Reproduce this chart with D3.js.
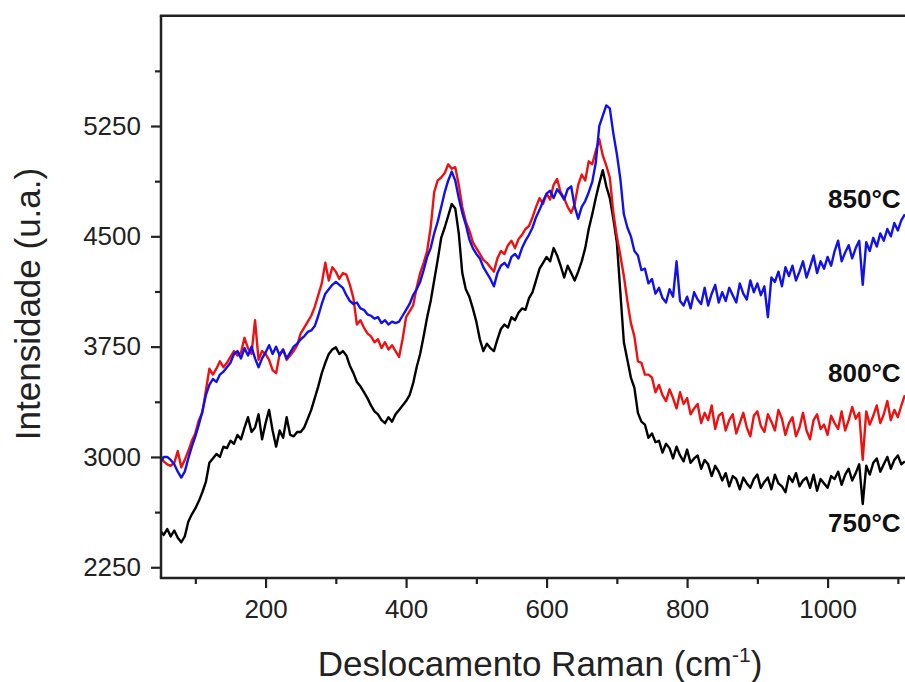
<!DOCTYPE html>
<html>
<head>
<meta charset="utf-8">
<script src="https://cdn.jsdelivr.net/npm/d3@7/dist/d3.min.js"></script>
<style>
  html, body { margin: 0; padding: 0; background: #fff; }
  svg { display: block; font-family: "Liberation Sans", Arial, sans-serif; }
</style>
</head>
<body>
<svg id="chart" width="905" height="682"></svg>
<script>
// ---- data ----
// Raman shift grid: 50 .. 1110 cm-1, step 5
const shiftStart = 50;
const shiftStep = 5;

// 750 °C (black)
const s750 = [
  2500,2470,2510,2460,2500,2450,2420,2460,2560,2610, // 50
  2650,2700,2760,2830,2960,2990,3020,3000,3070,3060, // 100
  3110,3090,3150,3120,3200,3270,3170,3200,3290,3120, // 150
  3230,3320,3180,3070,3180,3130,3270,3150,3140,3170, // 200
  3170,3200,3260,3320,3400,3480,3570,3640,3700,3730, // 250
  3745,3700,3720,3690,3620,3570,3510,3480,3440,3400, // 300
  3350,3310,3290,3250,3230,3270,3240,3290,3320,3350, // 350
  3380,3420,3500,3610,3700,3820,3950,4060,4200,4340, // 400
  4490,4560,4640,4720,4690,4520,4250,4140,4090,4010, // 450
  3920,3800,3720,3770,3740,3720,3800,3870,3900,3880, // 500
  3950,3930,3980,4010,4000,4080,4120,4200,4280,4320, // 550
  4360,4330,4420,4370,4300,4220,4300,4250,4200,4260, // 600
  4330,4420,4550,4650,4760,4860,4950,4840,4760,4620, // 650
  4460,4120,3780,3660,3540,3470,3300,3240,3220,3130, // 700
  3160,3100,3110,3030,3090,3060,2990,3070,3010,2970, // 750
  3050,2960,2990,3010,2920,2980,2950,2870,2940,2900, // 800
  2840,2890,2800,2870,2850,2780,2860,2820,2790,2850, // 850
  2880,2790,2830,2860,2780,2880,2820,2800,2760,2870, // 900
  2830,2890,2800,2840,2860,2790,2880,2770,2850,2820, // 950
  2790,2870,2850,2900,2810,2880,2920,2840,2890,2950, // 1000
  2680,2940,2880,2960,2990,2900,2950,3000,2920,2980, // 1050
  3010,2950,2970                                     // 1100
];

// 800 °C (red)
const s800 = [
  3000,2970,2950,2940,2960,3040,2930,2980,3040,3110, // 50
  3160,3250,3300,3450,3600,3560,3600,3650,3610,3640, // 100
  3680,3720,3690,3710,3810,3740,3700,3930,3660,3720, // 150
  3700,3660,3590,3570,3700,3730,3660,3690,3720,3760, // 200
  3840,3880,3920,3960,4020,4100,4180,4320,4200,4290, // 250
  4260,4210,4250,4240,4170,4080,3900,3930,3880,3840, // 300
  3820,3780,3800,3740,3780,3730,3760,3720,3680,3800, // 350
  3950,3990,4030,4150,4250,4320,4400,4560,4800,4880, // 400
  4900,4930,4990,4960,4970,4850,4700,4600,4540,4460, // 450
  4420,4380,4340,4320,4290,4260,4350,4400,4380,4440, // 500
  4470,4420,4480,4510,4550,4570,4630,4700,4760,4720, // 550
  4790,4750,4850,4890,4800,4760,4700,4660,4720,4850, // 600
  4920,4880,5010,4990,5080,5160,5050,4980,4900,4660, // 650
  4500,4370,4230,4060,3910,3820,3650,3640,3560,3560, // 700
  3540,3440,3490,3420,3380,3460,3400,3330,3440,3360, // 750
  3400,3290,3330,3360,3230,3300,3250,3350,3190,3280, // 800
  3300,3180,3250,3290,3160,3230,3300,3200,3140,3280, // 850
  3310,3210,3170,3290,3240,3180,3320,3260,3150,3230, // 900
  3270,3140,3200,3300,3180,3120,3250,3290,3190,3220, // 950
  3150,3280,3230,3190,3310,3180,3250,3340,3260,3300, // 1000
  2980,3310,3220,3280,3350,3230,3290,3380,3250,3320, // 1050
  3270,3350,3420                                     // 1100
];

// 850 °C (blue)
const s850 = [
  2960,3000,3000,2980,2950,2900,2860,2900,2990,3070, // 50
  3140,3220,3310,3420,3490,3530,3510,3560,3580,3610, // 100
  3640,3700,3720,3670,3740,3690,3750,3670,3610,3670, // 150
  3710,3760,3700,3750,3690,3730,3670,3710,3750,3770, // 200
  3800,3820,3850,3860,3890,3960,4040,4110,4140,4170, // 250
  4190,4170,4150,4100,4060,4040,4050,4010,4000,3970, // 300
  3960,3940,3950,3910,3930,3900,3920,3910,3920,3960, // 350
  4000,4040,4100,4140,4190,4270,4360,4420,4520,4600, // 400
  4700,4800,4880,4940,4880,4760,4660,4580,4480,4420, // 450
  4380,4350,4290,4250,4210,4160,4250,4300,4320,4290, // 500
  4360,4380,4350,4420,4470,4510,4560,4630,4680,4740, // 550
  4790,4810,4760,4820,4790,4750,4820,4840,4700,4620, // 600
  4700,4740,4800,4870,5000,5250,5320,5390,5370,5200, // 650
  5060,4890,4650,4560,4500,4400,4370,4270,4280,4180, // 700
  4210,4110,4150,4080,4050,4140,4090,4330,4060,4030, // 750
  4090,4010,4120,4070,4040,4150,4030,4110,4170,4050, // 800
  4120,4060,4150,4100,4050,4180,4110,4070,4200,4120, // 850
  4180,4100,4160,3950,4220,4190,4260,4160,4290,4230, // 900
  4300,4200,4260,4330,4220,4290,4370,4250,4330,4280, // 950
  4360,4300,4400,4470,4330,4390,4440,4350,4420,4470, // 1000
  4170,4460,4400,4490,4430,4520,4470,4550,4500,4590, // 1050
  4540,4610,4650                                     // 1100
];

const seriesNames = ["750°C", "800°C", "850°C"];
const seriesValues = [s750, s800, s850];
const seriesColors = ["#000000", "#ee1111", "#1111ee"];

const xMajorTicks = [200, 400, 600, 800, 1000];
const xMinorTicks = [100, 300, 500, 700, 900, 1100];
const yMajorTicks = [2250, 3000, 3750, 4500, 5250];
const yMinorTicks = [2625, 3375, 4125, 4875, 5625];

const xTitle = "Deslocamento Raman (cm";
const yTitle = "Intensidade (u.a.)";

// ---- layout ----
const svg = d3.select("#chart");
const plotLeft = 161, plotTop = 15.7, plotBottom = 578, plotRight = 913;

const x = d3.scaleLinear().domain([50, 1120]).range([160.2, 911.9]);
const y = d3.scaleLinear().domain([2177, 6000]).range([plotBottom, plotTop]);

svg.append("defs").append("clipPath").attr("id", "plotclip")
  .append("rect").attr("x", plotLeft).attr("y", plotTop)
  .attr("width", plotRight - plotLeft).attr("height", plotBottom - plotTop);

// lines
const lineGen = d3.line()
  .x((d, i) => x(shiftStart + i * shiftStep))
  .y(d => y(d));

const g = svg.append("g").attr("clip-path", "url(#plotclip)");
seriesValues.forEach((vals, k) => {
  g.append("path")
    .datum(vals)
    .attr("d", lineGen)
    .attr("fill", "none")
    .attr("stroke", seriesColors[k])
    .attr("stroke-width", 2.4)
    .attr("stroke-linejoin", "round");
});

// frame
const axisColor = "#222";
svg.append("line").attr("x1", plotLeft).attr("x2", plotLeft).attr("y1", plotTop).attr("y2", plotBottom)
  .attr("stroke", axisColor).attr("stroke-width", 2.5);
svg.append("line").attr("x1", plotLeft - 1.2).attr("x2", 920).attr("y1", plotBottom).attr("y2", plotBottom)
  .attr("stroke", axisColor).attr("stroke-width", 2.5);
svg.append("line").attr("x1", plotLeft - 1.2).attr("x2", 920).attr("y1", plotTop).attr("y2", plotTop)
  .attr("stroke", axisColor).attr("stroke-width", 2.5);

// x axis ticks
const xAxisMajor = d3.axisBottom(x).tickValues(xMajorTicks).tickSize(10).tickSizeOuter(0).tickPadding(12).tickFormat(d3.format("d"));
const xAxisMinor = d3.axisBottom(x).tickValues(xMinorTicks).tickSize(6).tickSizeOuter(0).tickFormat("");
const gxMinor = svg.append("g").attr("transform", `translate(0,${plotBottom})`).call(xAxisMinor);
const gx = svg.append("g").attr("transform", `translate(0,${plotBottom})`).call(xAxisMajor);
[gx, gxMinor].forEach(s => {
  s.select(".domain").remove();
  s.selectAll(".tick line").attr("stroke", axisColor).attr("stroke-width", 2.2);
});
gx.selectAll(".tick text").attr("font-size", 26).attr("fill", "#222")
  .attr("font-family", "Liberation Sans, Arial, sans-serif");

// y axis ticks
const yAxisMajor = d3.axisLeft(y).tickValues(yMajorTicks).tickSize(10).tickSizeOuter(0).tickPadding(10).tickFormat(d3.format("d"));
const yAxisMinor = d3.axisLeft(y).tickValues(yMinorTicks).tickSize(6).tickSizeOuter(0).tickFormat("");
const gyMinor = svg.append("g").attr("transform", `translate(${plotLeft},0)`).call(yAxisMinor);
const gy = svg.append("g").attr("transform", `translate(${plotLeft},0)`).call(yAxisMajor);
[gy, gyMinor].forEach(s => {
  s.select(".domain").remove();
  s.selectAll(".tick line").attr("stroke", axisColor).attr("stroke-width", 2.2);
});
gy.selectAll(".tick text").attr("font-size", 26).attr("fill", "#222")
  .attr("font-family", "Liberation Sans, Arial, sans-serif");

// axis titles
const xt = svg.append("text")
  .attr("x", 540).attr("y", 676)
  .attr("text-anchor", "middle")
  .attr("font-size", 35).attr("fill", "#222");
xt.append("tspan").text(xTitle);
xt.append("tspan").attr("font-size", 21).attr("dy", -14).text("-1");
xt.append("tspan").attr("dy", 14).text(")");

svg.append("text")
  .attr("transform", "translate(40,304) rotate(-90)")
  .attr("text-anchor", "middle")
  .attr("font-size", 35).attr("fill", "#222")
  .text(yTitle);

// series labels
const labelPos = [[828, 532], [828, 382], [828, 208]];
seriesNames.forEach((name, k) => {
  svg.append("text")
    .attr("x", labelPos[k][0]).attr("y", labelPos[k][1])
    .attr("font-size", 26).attr("font-weight", "bold").attr("fill", "#111")
    .text(name);
});
</script>
</body>
</html>
